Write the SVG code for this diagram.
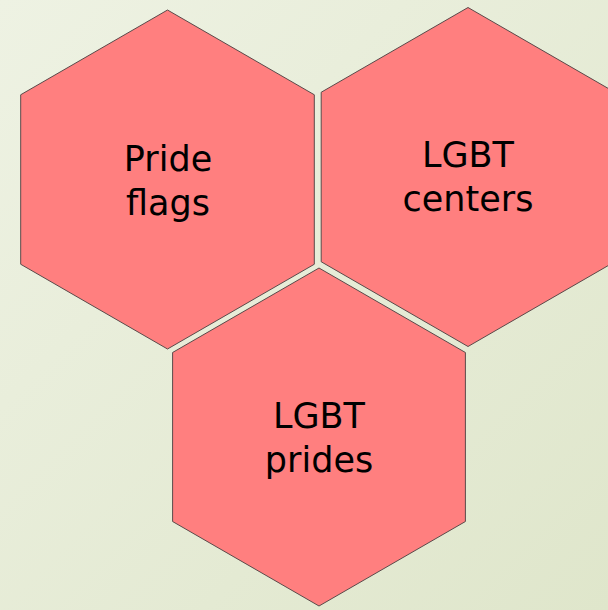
<svg xmlns="http://www.w3.org/2000/svg" width="608" height="610" viewBox="0 0 608 610">
  <defs>
    <linearGradient id="bg" x1="0" y1="0" x2="1" y2="1">
      <stop offset="0" stop-color="#eef2e3"/>
      <stop offset="1" stop-color="#dfe6cb"/>
    </linearGradient>
  </defs>
  <style>
    .hex { fill: #ff7f7f; stroke: #5a4a4a; stroke-width: 1; }
    .lbl { font-family: "DejaVu Sans", "Liberation Sans", sans-serif; font-size: 35px; fill: #000; text-anchor: middle; }
  </style>
  <rect x="0" y="0" width="608" height="610" fill="url(#bg)"/>
  <g id="node-pride-flags">
    <polygon class="hex" points="167.5,10 314.3,94.75 314.3,264.25 167.5,349 20.7,264.25 20.7,94.75"/>
    <text class="lbl" x="168" y="170.6">Pride</text>
    <text class="lbl" x="168" y="215">flags</text>
  </g>
  <g id="node-lgbt-centers">
    <polygon class="hex" points="468,7.5 614.8,92.25 614.8,261.75 468,346.5 321.2,261.75 321.2,92.25"/>
    <text class="lbl" x="468" y="166.7">LGBT</text>
    <text class="lbl" x="468" y="211.3">centers</text>
  </g>
  <g id="node-lgbt-prides">
    <polygon class="hex" points="319,268 465.4,352.5 465.4,521.5 319,606 172.6,521.5 172.6,352.5"/>
    <text class="lbl" x="319" y="427.7">LGBT</text>
    <text class="lbl" x="319" y="472.3">prides</text>
  </g>
  <g id="connectors"/>
</svg>
